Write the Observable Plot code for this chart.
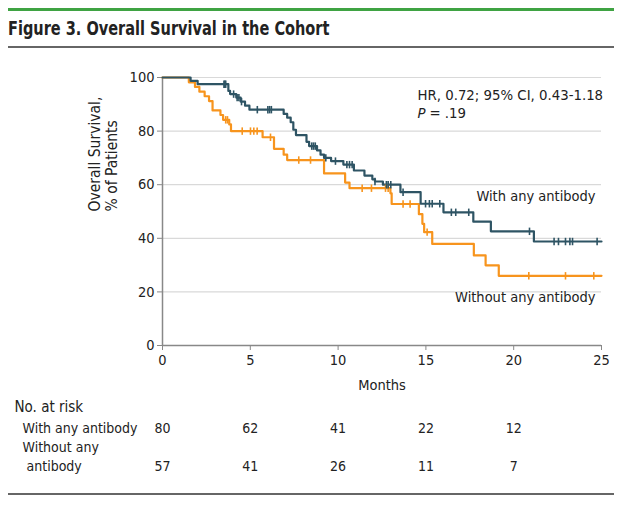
<!DOCTYPE html>
<html><head><meta charset="utf-8">
<script src="https://cdn.jsdelivr.net/npm/d3@7"></script>
<script src="https://cdn.jsdelivr.net/npm/@observablehq/plot@0.6"></script>
<style>
body{margin:0;background:#fff;font-family:"DejaVu Sans Condensed","DejaVu Sans",sans-serif;}
#wrap{position:relative;width:636px;height:507px;}
#green{position:absolute;left:8px;top:8px;width:606px;height:3px;background:#3fa343;}
#title{position:absolute;left:8px;top:17px;font-size:19px;font-weight:bold;color:#222;transform:scaleX(0.85);transform-origin:0 0;white-space:nowrap;}
#grey{position:absolute;left:8px;top:46px;width:606px;height:2px;background:#666;}
#bottom{position:absolute;left:8px;top:493px;width:606px;height:2px;background:#666;}
#chart{position:absolute;left:0;top:50px;}
</style></head>
<body><div id="wrap">
<div id="green"></div>
<div id="title">Figure 3. Overall Survival in the Cohort</div>
<div id="grey"></div>
<div id="chart"></div>
<div id="bottom"></div>
</div>
<script>
// With any antibody: step times (months) and survival (%) after each drop
const withTimes = [0, 1.6, 2.0, 3.75, 3.85, 4.2, 4.45, 4.7, 4.95, 6.9, 7.1, 7.3, 7.45, 7.6, 8.2, 8.35, 8.8, 9.0, 9.2, 9.6, 10.3, 10.9, 11.5, 11.95, 12.1, 12.55, 13.55, 14.7, 16.0, 17.7, 18.7, 21.15, 25];
const withSurv  = [100, 98.75, 97.5, 95.0, 93.8, 92.5, 91.0, 89.5, 88.0, 86.4, 85.0, 83.3, 80.5, 78.5, 76.0, 74.4, 72.8, 71.2, 70.0, 68.8, 67.5, 65.3, 63.4, 62.0, 61.2, 60.0, 57.2, 52.9, 49.7, 46.2, 42.6, 38.8, 38.8];
const withCensor = [3.5, 3.55, 3.6, 4.05, 4.25, 4.35, 4.5, 5.4, 6.0, 6.1, 6.2, 8.5, 8.6, 8.7, 9.3, 9.85, 10.5, 10.65, 10.8, 12.1, 12.75, 12.85, 13.0, 13.7, 14.98, 15.2, 15.36, 15.79, 16.45, 16.7, 17.44, 20.9, 22.3, 22.55, 22.95, 23.2, 23.35, 24.75];

// Without any antibody
const withoutTimes = [0, 1.5, 1.85, 2.1, 2.4, 2.65, 2.85, 3.3, 3.45, 3.8, 3.9, 5.7, 6.35, 6.9, 7.1, 9.2, 10.4, 10.65, 12.98, 13.05, 14.6, 14.8, 14.9, 15.36, 17.73, 18.4, 19.15, 25];
const withoutSurv  = [100, 98.2, 96.5, 94.7, 93.0, 91.2, 87.7, 86.0, 84.2, 82.5, 80.0, 77.7, 73.4, 71.2, 69.2, 64.2, 60.8, 58.7, 56.8, 52.8, 49.0, 45.4, 42.3, 37.9, 33.6, 29.9, 26.0, 26.0];
const withoutCensor = [3.6, 3.7, 4.54, 5.01, 5.2, 5.39, 6.15, 7.76, 8.43, 11.37, 11.9, 12.7, 12.85, 13.7, 14.1, 15.07, 20.86, 22.95, 24.56];

const riskMonths = [0, 5, 10, 15, 20];
const riskWith = [80, 62, 41, 22, 12];
const riskWithout = [57, 41, 26, 11, 7];
const xTicks = [0, 5, 10, 15, 20, 25];
const yTicks = [0, 20, 40, 60, 80, 100];

const cBlue = "#2e5464", cOrange = "#f7941d";
const font = '"DejaVu Sans Condensed","DejaVu Sans",sans-serif';

function steps(times, surv){ return times.map((t,i)=>({t, s: surv[i]})); }
function survAt(times, surv, t){ let v = surv[0]; for (let i=0;i<times.length;i++){ if (times[i] <= t) v = surv[i]; } return v; }
function censors(list, times, surv){ return list.map(t=>({t, s: survAt(times, surv, t)})); }

const tickSym = {draw(ctx, size){ const r = Math.sqrt(size); ctx.moveTo(0,-r); ctx.lineTo(0,r); }};

const withData = steps(withTimes, withSurv);
const withoutData = steps(withoutTimes, withoutSurv);
const risk1 = riskMonths.map((m,i)=>({m, n: riskWith[i]}));
const risk2 = riskMonths.map((m,i)=>({m, n: riskWithout[i]}));

const plot = Plot.plot({
  width: 636, height: 440,
  marginLeft: 162, marginRight: 35, marginTop: 27, marginBottom: 145,
  style: {fontFamily: font, fontSize: "14px", color: "#222", background: "#fff"},
  x: {domain: [0, 25]},
  y: {domain: [0, 100]},
  marks: [
    Plot.gridY(yTicks.filter(d=>d>0), {stroke: "#d9d9d9", strokeOpacity: 1, strokeWidth: 1.2}),
    Plot.ruleX([0], {stroke: "#888", strokeWidth: 1.5}),
    Plot.ruleY([0], {stroke: "#888", strokeWidth: 1.5}),
    Plot.axisY({ticks: yTicks, tickSize: 5, tickPadding: 3, label: null, stroke: "#888", fontSize: 14.5}),
    Plot.axisX({ticks: xTicks, tickSize: 5, tickPadding: 4, label: "Months", labelAnchor: "center", labelArrow: "none", labelOffset: 44, stroke: "#888", fontSize: 14.5}),
    Plot.line(withoutData, {x: "t", y: "s", curve: "step-after", stroke: cOrange, strokeWidth: 2.2}),
    Plot.line(withData, {x: "t", y: "s", curve: "step-after", stroke: cBlue, strokeWidth: 2.2}),
    Plot.dot(censors(withoutCensor, withoutTimes, withoutSurv), {x: "t", y: "s", symbol: tickSym, r: 2.1, stroke: cOrange, strokeWidth: 1.6, fill: "none"}),
    Plot.dot(censors(withCensor, withTimes, withSurv), {x: "t", y: "s", symbol: tickSym, r: 2.1, stroke: cBlue, strokeWidth: 1.6, fill: "none"}),
    Plot.text(["HR, 0.72; 95% CI, 0.43-1.18"], {x: 14.52, y: 93.3, textAnchor: "start", fontSize: 14.8, fill: "#222"}),
    Plot.text(["P"], {x: 14.52, y: 86.6, textAnchor: "start", fontSize: 14.8, fontStyle: "italic", fill: "#222"}),
    Plot.text(["= .19"], {x: 14.52, y: 86.6, dx: 12, textAnchor: "start", fontSize: 14.8, fill: "#222"}),
    Plot.text(["With any antibody"], {x: 24.66, y: 55.6, textAnchor: "end", fontSize: 14.5, fill: "#222"}),
    Plot.text(["Without any antibody"], {x: 24.66, y: 17.9, textAnchor: "end", fontSize: 14.5, fill: "#222"}),
    Plot.text(["Overall Survival,\n% of Patients"], {frameAnchor: "left", dx: -59, rotate: -90, fontSize: 15.5, lineHeight: 1.1, fill: "#222"}),
    Plot.text(["No. at risk"], {x: 0, y: 0, dx: -148, dy: 62, textAnchor: "start", fontSize: 15, fill: "#222"}),
    Plot.text(["With any antibody"], {x: 0, y: 0, dx: -140, dy: 83, textAnchor: "start", fontSize: 14, fill: "#222"}),
    Plot.text(["Without any"], {x: 0, y: 0, dx: -140, dy: 102, textAnchor: "start", fontSize: 14, fill: "#222"}),
    Plot.text(["antibody"], {x: 0, y: 0, dx: -136, dy: 121, textAnchor: "start", fontSize: 14, fill: "#222"}),
    Plot.text(risk1, {x: "m", y: 0, dy: 83, text: "n", fontSize: 14, fill: "#222"}),
    Plot.text(risk2, {x: "m", y: 0, dy: 121, text: "n", fontSize: 14, fill: "#222"})
  ]
});
document.getElementById("chart").appendChild(plot);
</script>
</body></html>
